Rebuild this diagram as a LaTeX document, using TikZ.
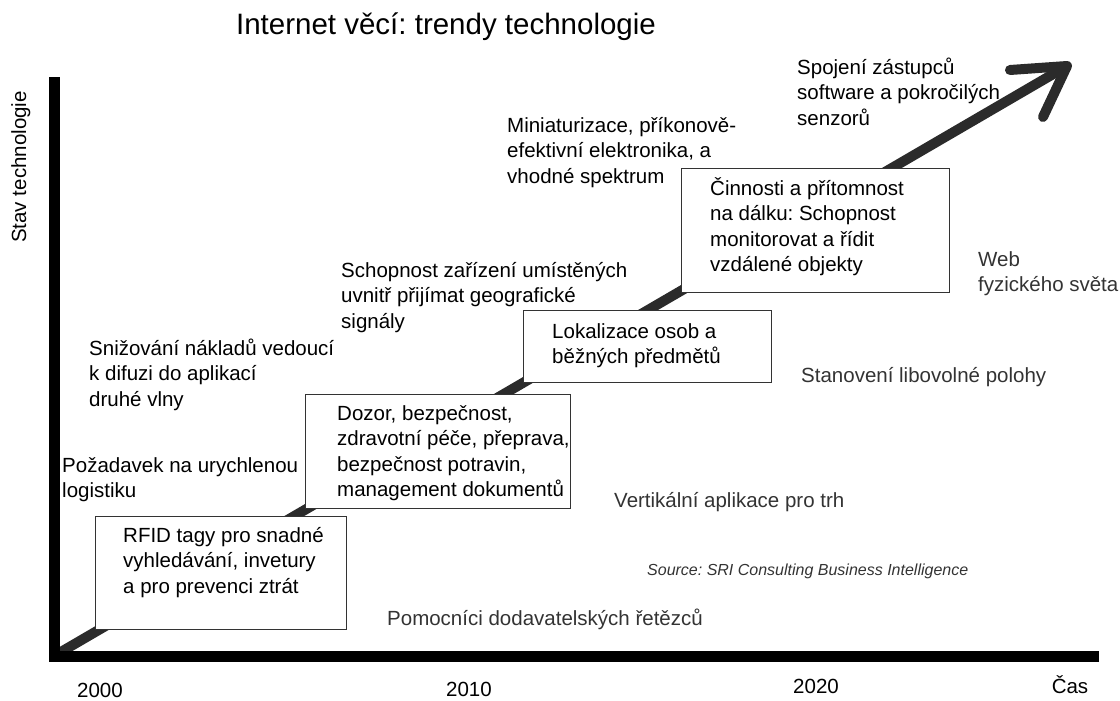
\documentclass[tikz,border=0pt]{standalone}
\usepackage{fontspec}
\setmainfont{Liberation Sans}
\usetikzlibrary{positioning}
\definecolor{trend}{HTML}{2B2B2B}
\definecolor{note}{HTML}{333333}
\newcommand{\bodyfont}{\fontsize{20.5}{25.5}\selectfont}
\newcommand{\firststrut}{\rule{0pt}{20pt}}
\frenchspacing

\begin{document}
\begin{tikzpicture}[x=1pt,y=-1pt,
      lbl/.style={anchor=north west,inner sep=0pt,align=left,font=\bodyfont},
      box/.style={draw=note,line width=1.2pt,fill=white,anchor=north west,inner sep=0pt},
      year/.style={anchor=base,inner sep=0pt,font=\bodyfont},
      axis/.style={line width=11pt},
      trendline/.style={draw=trend,line width=10pt}]
  \useasboundingbox (0,0) rectangle (1120,701);
  \node[anchor=base,inner sep=0pt,font=\fontsize{29.5}{34}\selectfont] (title) at (446,35) {Internet věcí: trendy technologie};

  \coordinate (o) at (54,656);
  \coordinate (ytop) at (54,77);
  \coordinate (xend) at (1099,656);
  \coordinate (tip) at (1067,66);
  \coordinate (armup) at (1010,70);
  \coordinate (armlow) at (1043,117);
  \draw[trendline] (o) -- (tip);
  \draw[trendline,line cap=round,line join=round] (armup) -- (tip) -- (armlow);

  \node[box,minimum width=251pt,minimum height=113pt] (rfid) at (95,516) {};
  \node[lbl,below right=6pt and 28pt of rfid.north west] (rfidtxt) {\firststrut RFID tagy pro snadné\\vyhledávání, invetury\\a pro prevenci ztrát};
  \node[box,minimum width=265pt,minimum height=114pt] (dozor) at (305,394) {};
  \node[lbl,below right=6pt and 32pt of dozor.north west] (dozortxt) {\firststrut Dozor, bezpečnost,\\zdravotní péče, přeprava,\\bezpečnost potravin,\\management dokumentů};
  \node[box,minimum width=248pt,minimum height=72pt] (lokal) at (523,310) {};
  \node[lbl,below right=8pt and 29pt of lokal.north west] (lokaltxt) {\firststrut Lokalizace osob a\\běžných předmětů};
  \node[box,minimum width=268pt,minimum height=124pt] (cinnost) at (681,168) {};
  \node[lbl,below right=7pt and 29pt of cinnost.north west] (cinnosttxt) {\firststrut Činnosti a přítomnost\\na dálku: Schopnost\\monitorovat a řídit\\vzdálené objekty};

  \draw[axis] (xend) -- (o) -- (ytop);

  \node[year,rotate=90] (ylab) at (26,167) {Stav technologie};
  \node[lbl] (spojeni) at (797,54) {\firststrut Spojení zástupců\\software a pokročilých\\senzorů};
  \node[lbl] (mini) at (507,112) {\firststrut Miniaturizace, příkonově-\\efektivní elektronika, a\\vhodné spektrum};
  \node[lbl] (geo) at (341,257) {\firststrut Schopnost zařízení umístěných\\uvnitř přijímat geografické\\signály};
  \node[lbl] (naklady) at (89,335) {\firststrut Snižování nákladů vedoucí\\k difuzi do aplikací\\druhé vlny};
  \node[lbl] (logistika) at (62,452) {\firststrut Požadavek na urychlenou\\logistiku};
  \node[lbl,text=note] (web) at (978,246) {\firststrut Web\\fyzického světa};
  \node[lbl,text=note] (poloha) at (801,362) {\firststrut Stanovení libovolné polohy};
  \node[lbl,text=note] (vertikal) at (614,487) {\firststrut Vertikální aplikace pro trh};
  \node[lbl,text=note] (pomocnici) at (387,605) {\firststrut Pomocníci dodavatelských řetězců};
  \node[anchor=base west,inner sep=0pt,text=note,font=\itshape\fontsize{16}{19}\selectfont] (source) at (647,575) {Source: SRI Consulting Business Intelligence};

  \node[year] (y2000) at (100,697) {2000};
  \node[year] (y2010) at (469,696) {2010};
  \node[year] (y2020) at (816,693) {2020};
  \node[year] (cas) at (1070,693) {Čas};
\end{tikzpicture}
\end{document}
